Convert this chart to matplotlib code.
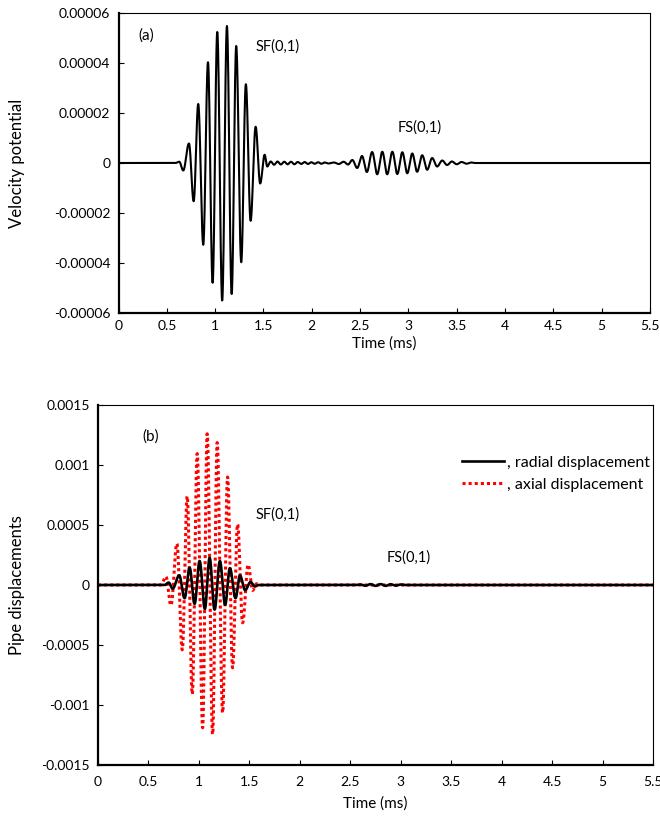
import numpy as np
import matplotlib
matplotlib.use('Agg')
import matplotlib.pyplot as plt

plt.rcParams['font.family'] = ['Lato', 'DejaVu Sans']

# ---- panel (a): velocity potential, peaks/troughs (units of 1e-5)
sf_t = [0.629, 0.670, 0.729, 0.778, 0.825, 0.877, 0.926, 0.974, 1.022, 1.073,
        1.122, 1.171, 1.218, 1.270, 1.318, 1.367, 1.419, 1.466, 1.512, 1.539]
sf_v = [0.05, -0.30, 0.78, -1.53, 2.36, -3.27, 4.03, -4.79, 5.24, -5.50,
        5.48, -5.24, 4.68, -3.97, 3.15, -2.31, 1.45, -0.82, 0.33, -0.14]
ripple_t = [1.575, 1.61, 1.645, 1.68, 1.715, 1.75, 1.785, 1.82, 1.855, 1.89,
            1.925, 1.96, 1.995, 2.03, 2.065, 2.10, 2.135, 2.17, 2.23, 2.28, 2.33, 2.375]
ripple_v = [0.06, -0.07, 0.06, -0.06, 0.05, -0.05, 0.05, -0.05, 0.04, -0.04,
            0.04, -0.04, 0.03, -0.03, 0.03, -0.03, 0.02, -0.02, 0.02, -0.04, 0.05, -0.06]
fs_t = [2.42, 2.47, 2.52, 2.57, 2.625, 2.677, 2.73, 2.78, 2.834, 2.885, 2.937,
        2.988, 3.04, 3.09, 3.143, 3.194, 3.246, 3.297, 3.35, 3.40, 3.45,
        3.50, 3.55, 3.60, 3.65]
fs_v = [0.12, -0.20, 0.28, -0.36, 0.44, -0.45, 0.45, -0.45, 0.45, -0.44, 0.43,
        -0.41, 0.38, -0.35, 0.31, -0.27, 0.20, -0.14, 0.10, -0.08, 0.06,
        -0.05, 0.04, -0.03, 0.02]

# ---- panel (b): pipe displacements (units of 1e-3)
axial_t = [0.673, 0.723, 0.782, 0.835, 0.884, 0.934, 0.983, 1.037, 1.082, 1.136,
           1.181, 1.235, 1.284, 1.334, 1.383, 1.433, 1.488, 1.532, 1.571]
axial_v = [0.07, -0.17, 0.345, -0.54, 0.74, -0.91, 1.095, -1.19, 1.26, -1.245,
           1.187, -1.065, 0.90, -0.69, 0.507, -0.315, 0.17, -0.045, 0.01]
radial_t = [0.700, 0.740, 0.805, 0.858, 0.908, 0.957, 1.007, 1.059, 1.106,
            1.155, 1.208, 1.260, 1.307, 1.363, 1.406, 1.458, 1.512, 1.554]
radial_v = [0.02, -0.03, 0.08, -0.11, 0.145, -0.157, 0.20, -0.20, 0.227,
            -0.205, 0.20, -0.165, 0.14, -0.11, 0.08, -0.043, 0.025, -0.012]
radial_fs_t = [2.60, 2.65, 2.70, 2.75, 2.80, 2.85, 2.90, 2.95, 3.00]
radial_fs_v = [0.004, -0.006, 0.007, -0.007, 0.007, -0.007, 0.006, -0.005, 0.004]

x_ticks = [0, 0.5, 1, 1.5, 2, 2.5, 3, 3.5, 4, 4.5, 5, 5.5]
x_labels = ['0', '0.5', '1', '1.5', '2', '2.5', '3', '3.5', '4', '4.5', '5', '5.5']
ya_ticks = [-0.00006, -0.00004, -0.00002, 0, 0.00002, 0.00004, 0.00006]
ya_labels = ['-0.00006', '-0.00004', '-0.00002', '0', '0.00002', '0.00004', '0.00006']
yb_ticks = [-0.0015, -0.001, -0.0005, 0, 0.0005, 0.001, 0.0015]
yb_labels = ['-0.0015', '-0.001', '-0.0005', '0', '0.0005', '0.001', '0.0015']


def smooth(groups, n=24):
    # excel-like smoothed line: half-cosine between consecutive extrema,
    # flat zero outside each wave packet
    tt, vv = [np.array([0.0])], [np.array([0.0])]
    for t_ext, v_ext in groups:
        dt = t_ext[1] - t_ext[0]
        tp = [t_ext[0] - dt] + list(t_ext) + [t_ext[-1] + dt]
        vp = [0.0] + list(v_ext) + [0.0]
        for i in range(len(tp) - 1):
            s = np.linspace(0, 1, n, endpoint=False)
            tt.append(tp[i] + (tp[i + 1] - tp[i]) * s)
            vv.append(vp[i] + (vp[i + 1] - vp[i]) * (1 - np.cos(np.pi * s)) / 2)
        tt.append(np.array([tp[-1]]))
        vv.append(np.array([0.0]))
    tt.append(np.array([5.5]))
    vv.append(np.array([0.0]))
    return np.concatenate(tt), np.concatenate(vv)


def style_axes(ax, pad):
    for side in ['left', 'bottom']:
        ax.spines[side].set_linewidth(1.6)
    for side in ['top', 'right']:
        ax.spines[side].set_linewidth(0.8)
    ax.tick_params(direction='in', length=3.5, width=0.8, labelsize=10,
                   colors='black', pad=6)
    ax.tick_params(axis='x', pad=pad)
    ax.set_xlim(0, 5.5)
    ax.set_xticks(x_ticks)
    ax.set_xticklabels(x_labels)


fig = plt.figure(figsize=(6.6, 8.16), dpi=100)

# ---- (a)
ax1 = fig.add_axes([118.5 / 660, 1 - 313 / 816, (650 - 118.5) / 660, 300 / 816])
ta, va = smooth([(sf_t + ripple_t + fs_t, sf_v + ripple_v + fs_v)])
ax1.plot(ta, va * 1e-5, color='black', lw=1.5)
ax1.set_ylim(-0.00006, 0.00006)
ax1.set_yticks(ya_ticks)
ax1.set_yticklabels(ya_labels)
style_axes(ax1, 5)
ax1.set_xlabel('Time (ms)', fontsize=11, labelpad=3)
ax1.set_ylabel('Velocity potential', fontsize=12)
ax1.yaxis.set_label_coords(-(118.5 - 25) / 531.5, 0.5)
ax1.text(0.285, 5.1e-5, '(a)', fontsize=11, ha='center', va='center')
ax1.text(1.644, 4.65e-5, 'SF(0,1)', fontsize=10.5, ha='center', va='center')
ax1.text(3.118, 1.42e-5, 'FS(0,1)', fontsize=10.5, ha='center', va='center')

# ---- (b)
ax2 = fig.add_axes([98 / 660, 1 - 765 / 816, (653 - 98) / 660, 360 / 816])
tr, vr = smooth([(radial_t, radial_v), (radial_fs_t, radial_fs_v)])
tx, vx = smooth([(axial_t, axial_v)])
ax2.plot(tr, vr * 1e-3, color='black', lw=1.9, label=', radial displacement', zorder=3)
ax2.plot(tx, vx * 1e-3, color='#ff0000', lw=2.2, ls=(0, (1, 1)),
         label=', axial displacement', zorder=2)
ax2.set_ylim(-0.0015, 0.0015)
ax2.set_yticks(yb_ticks)
ax2.set_yticklabels(yb_labels)
style_axes(ax2, 8)
ax2.set_xlabel('Time (ms)', fontsize=11, labelpad=6)
ax2.set_ylabel('Pipe displacements', fontsize=12)
ax2.yaxis.set_label_coords(-(98 - 25) / 555, 0.5)
ax2.text(0.52, 1.24e-3, '(b)', fontsize=11, ha='center', va='center')
ax2.text(1.78, 0.59e-3, 'SF(0,1)', fontsize=10.5, ha='center', va='center')
ax2.text(3.08, 0.23e-3, 'FS(0,1)', fontsize=10.5, ha='center', va='center')
ax2.legend(loc='upper left', bbox_to_anchor=(0.656, 0.86), frameon=False,
           fontsize=11.5, handlelength=2.6, handletextpad=0.2, labelspacing=0.5,
           borderpad=0, borderaxespad=0)

fig.savefig('out.png', dpi=100)
